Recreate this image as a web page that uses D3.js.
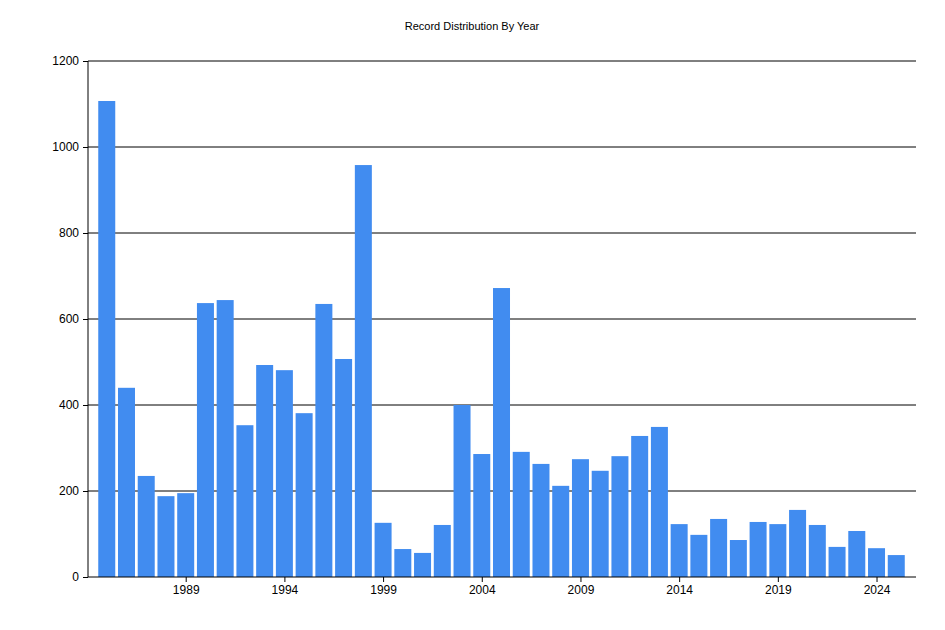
<!DOCTYPE html>
<html><head><script src="https://d3js.org/d3.v7.min.js"></script>
<style>body{margin:0;background:#fff}</style></head><body>
<script>
const years = d3.range(1985, 2026);
const values = [1107,440,235,188,195,637,644,353,493,481,381,635,507,958,126,65,56,121,400,286,672,291,263,212,274,247,281,328,349,123,98,135,86,128,123,156,121,70,107,67,51];
const yTicks = [0,200,400,600,800,1000,1200];
const xTicks = [1989,1994,1999,2004,2009,2014,2019,2024];
const W=945,H=630,L=88,R=916,T=61,B=577;
const svg=d3.select("body").append("svg").attr("width",W).attr("height",H).style("font-family","Liberation Sans, Arial").style("font-size","12px");
const x=d3.scaleLinear().domain([1984.05,2026.0]).range([L,R]);
const y=d3.scaleLinear().domain([0,1200]).range([B,T]);
svg.append("text").attr("x",472).attr("y",30).attr("text-anchor","middle").style("font-size","11px").text("Record Distribution By Year");
svg.selectAll(".g").data(yTicks.slice(1)).join("line").attr("x1",L).attr("x2",R).attr("y1",d=>y(d)).attr("y2",d=>y(d)).attr("stroke","#000");
const bw=17;
svg.selectAll(".b").data(years).join("rect").attr("x",(d)=>x(d)-bw/2).attr("width",bw).attr("y",(d,i)=>y(values[i])).attr("height",(d,i)=>B-y(values[i])).attr("fill","#418cf0");
const ya=svg.append("g").attr("transform",`translate(${L},0)`).call(d3.axisLeft(y).tickValues(yTicks).tickFormat(d3.format("d")).tickSize(5).tickPadding(4));
const xa=svg.append("g").attr("transform",`translate(0,${B})`).call(d3.axisBottom(x).tickValues(xTicks).tickFormat(d3.format("d")).tickSize(5).tickPadding(3));
[ya,xa].forEach(a=>{a.select(".domain").remove();a.selectAll("text").style("font-size","12px").attr("fill","#000");});
svg.append("line").attr("x1",L).attr("x2",L).attr("y1",T).attr("y2",B).attr("stroke","#000");
svg.append("line").attr("x1",L).attr("x2",R).attr("y1",B).attr("y2",B).attr("stroke","#000");
</script></body></html>
